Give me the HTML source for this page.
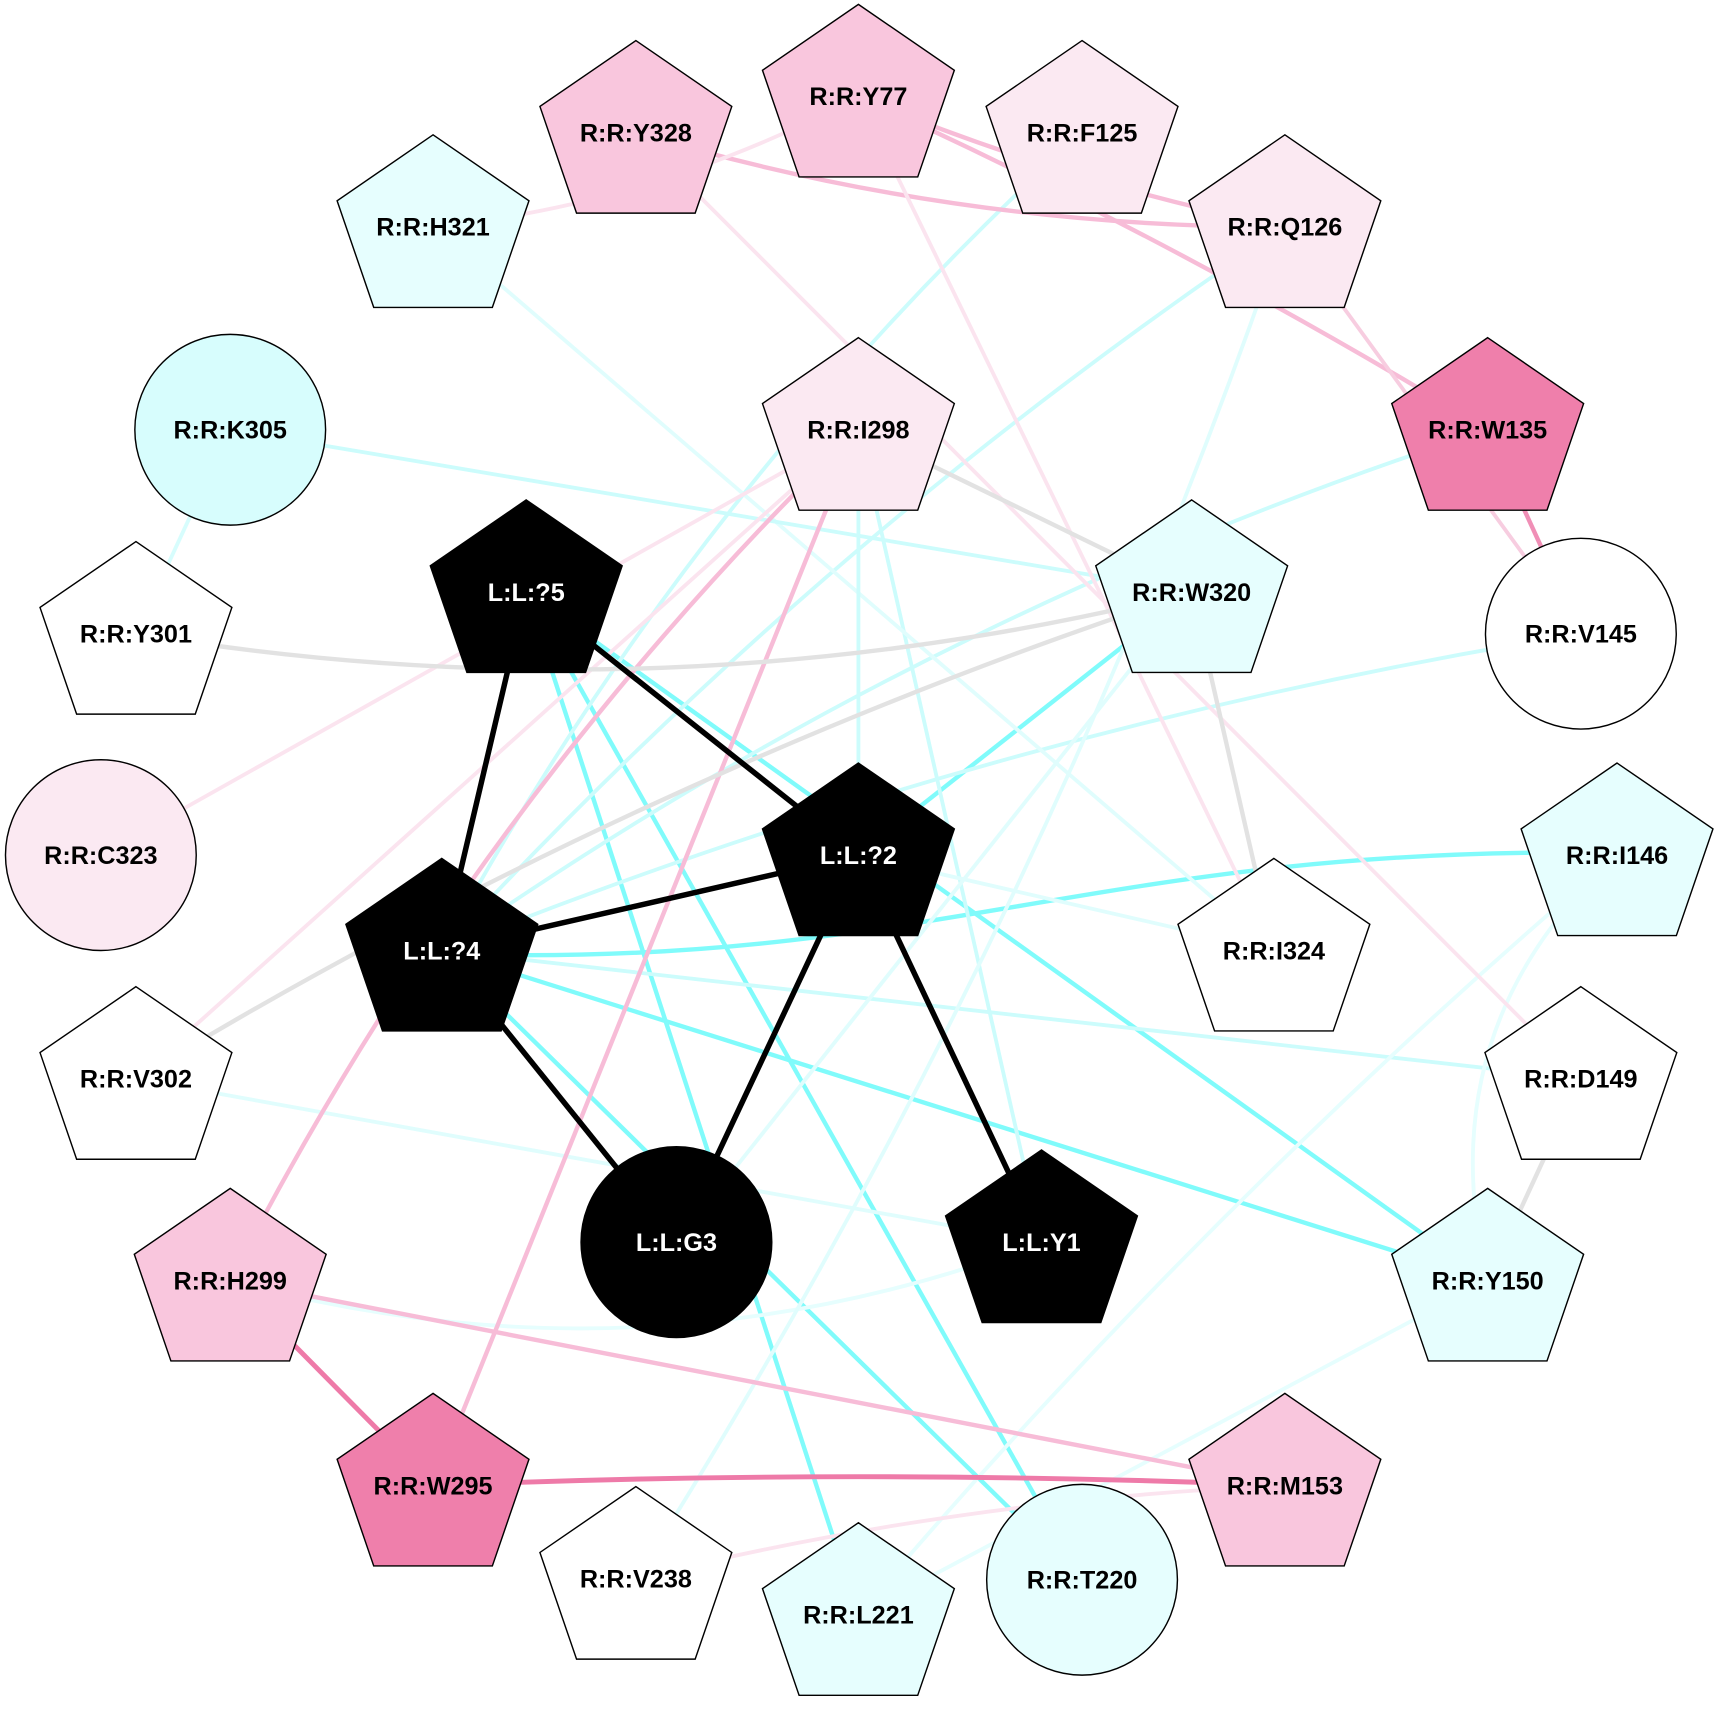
<!DOCTYPE html>
<html><head><meta charset="utf-8"><style>html,body{margin:0;padding:0;background:#fff}svg{display:block}</style></head>
<body>
<svg id="s" xmlns="http://www.w3.org/2000/svg" width="1719" height="1719" viewBox="0 0 1568 1568">
<g id="edges" fill="none" stroke-linecap="butt"></g>
<g id="nodes"></g>
</svg>
<script>
const N={
Y77:[783,88,'p','#f9c6dd','R:R:Y77'],Y328:[580,121,'p','#f9c6dd','R:R:Y328'],F125:[987,121,'p','#fbe9f2','R:R:F125'],
H321:[395,207,'p','#e6fefe','R:R:H321'],Q126:[1172,207,'p','#fbe9f2','R:R:Q126'],K305:[210,392,'c','#d7fdfd','R:R:K305'],
I298:[783,392,'p','#fbe9f2','R:R:I298'],W135:[1357,392,'p','#ef7fab','R:R:W135'],L5:[480,540,'p','#000','L:L:?5'],
W320:[1087,540,'p','#e6fefe','R:R:W320'],Y301:[124,578,'p','#fff','R:R:Y301'],V145:[1442,578,'c','#fff','R:R:V145'],
L2:[783,780,'p','#000','L:L:?2'],C323:[92,780,'c','#fbe9f2','R:R:C323'],I146:[1475,780,'p','#e6fefe','R:R:I146'],
L4:[403,867,'p','#000','L:L:?4'],I324:[1162,867,'p','#fff','R:R:I324'],V302:[124,984,'p','#fff','R:R:V302'],
D149:[1442,984,'p','#fff','R:R:D149'],G3:[617,1133,'c','#000','L:L:G3'],Y1:[950,1133,'p','#000','L:L:Y1'],
H299:[210,1168,'p','#f9c6dd','R:R:H299'],Y150:[1357,1168,'p','#e6fefe','R:R:Y150'],W295:[395,1355,'p','#ef7fab','R:R:W295'],
M153:[1172,1355,'p','#f9c6dd','R:R:M153'],V238:[580,1440,'p','#fff','R:R:V238'],L221:[783,1473,'p','#e6fefe','R:R:L221'],
T220:[987,1441,'c','#e6fefe','R:R:T220']};
const E=[
['L5','L4','#000',5,0],['L5','L2','#000',5,0],['L4','L2','#000',5,0],['L4','G3','#000',5,0],['L2','G3','#000',5,0],['L2','Y1','#000',5,0],
['L5','Y150','#80fbfb',4,0],['L5','L221','#80fbfb',4,0],['L5','T220','#80fbfb',4,0],['L4','I146','#80fbfb',4,'M403,870 C850,885 1000,770 1475,778'],['L4','Y150','#80fbfb',4,0],['L2','W320','#80fbfb',4,0],['L4','T220','#80fbfb',4,0],
['L4','Q126','#ccfcfc',3.5,-30],['L4','F125','#ccfcfc',3.5,-40],['L4','W135','#ccfcfc',3.5,-40],['L4','V145','#ccfcfc',3.5,-30],['L4','D149','#ccfcfc',3.5,0],
['Y1','I298','#ccfcfc',3.5,0],['H321','I324','#e0fdfd',3.5,0],['K305','W320','#ccfcfc',3.5,0],['V302','Y1','#e0fdfd',3.5,0],['H299','Y1','#e6fefe',3.5,60],
['L2','I324','#e0fdfd',3.5,0],['I298','L2','#ccfcfc',3.5,0],['Q126','V238','#e0fdfd',3.5,-40],['I146','L221','#e6fefe',3.5,20],['Y150','L221','#e6fefe',3.5,0],
['I146','Y150','#e6fefe',3.5,60],['W320','G3','#e0fdfd',3.5,0],['K305','Y301','#d7fdfd',3.5,0],
['Y328','Q126','#f7bcd7',4,22],['Y77','Q126','#f7bcd7',4,10],['Y77','W135','#f7bcd7',4,-10],['W135','V145','#f08fb6',4,0],
['H321','Y77','#fbe4ef',3.5,20],['Y328','D149','#fbe4ef',3.5,0],['Y77','I324','#fbe4ef',3.5,0],['Q126','V145','#f7cde0',3.5,0],
['I298','W295','#f7bcd7',4,0],['I298','H299','#f7bcd7',4,40],['I298','C323','#fbe4ef',3.5,0],['I298','V302','#fbe4ef',3.5,0],
['H299','W295','#ee7aa8',4.5,0],['W295','M153','#ee7aa8',4.5,-8],['H299','M153','#f7bcd7',4,0],['V238','M153','#fbe4ef',3.5,-15],
['I298','W320','#e2e2e2',4,0],['Y301','W320','#e2e2e2',4,50],['V302','W320','#e2e2e2',4,-30],['W320','I324','#e2e2e2',4,0],['D149','Y150','#e2e2e2',4,0]];
const ns='http://www.w3.org/2000/svg',eg=document.getElementById('edges'),ng=document.getElementById('nodes');
const blackOrder=E.filter(e=>e[2]=='#000'),others=E.filter(e=>e[2]!='#000');
for(const e of others.concat(blackOrder)){const a=N[e[0]],b=N[e[1]];const p=document.createElementNS(ns,'path');
let d;
if(typeof e[4]=='string')d=e[4];else{
const mx=(a[0]+b[0])/2,my=(a[1]+b[1])/2,dx=b[0]-a[0],dy=b[1]-a[1],L=Math.hypot(dx,dy);
const cx=mx-dy/L*e[4]*2,cy=my+dx/L*e[4]*2;d=`M${a[0]},${a[1]} Q${cx},${cy} ${b[0]},${b[1]}`;}
p.setAttribute('d',d);p.setAttribute('stroke',e[2]);p.setAttribute('stroke-width',e[3]);eg.appendChild(p);}
for(const k in N){const [x,y,t,f,l]=N[k];let el;
if(t=='c'){el=document.createElementNS(ns,'circle');el.setAttribute('cx',x);el.setAttribute('cy',y);el.setAttribute('r',87);}
else{el=document.createElementNS(ns,'polygon');const Rx=92,Ry=87,cy=y+3;let pts=[];for(let i=0;i<5;i++){const an=(-90+72*i)*Math.PI/180;pts.push((x+Rx*Math.cos(an)).toFixed(1)+','+(cy+Ry*Math.sin(an)).toFixed(1));}el.setAttribute('points',pts.join(' '));}
el.setAttribute('fill',f);el.setAttribute('stroke','#000');el.setAttribute('stroke-width',1.3);ng.appendChild(el);
const tx=document.createElementNS(ns,'text');tx.setAttribute('x',x);tx.setAttribute('y',y+8);tx.setAttribute('text-anchor','middle');
tx.setAttribute('font-family','Liberation Sans, Arial, sans-serif');tx.setAttribute('font-weight','bold');tx.setAttribute('font-size',23);
tx.setAttribute('fill',f=='#000'?'#fff':'#000');tx.textContent=l;ng.appendChild(tx);}
</script>
</body></html>
